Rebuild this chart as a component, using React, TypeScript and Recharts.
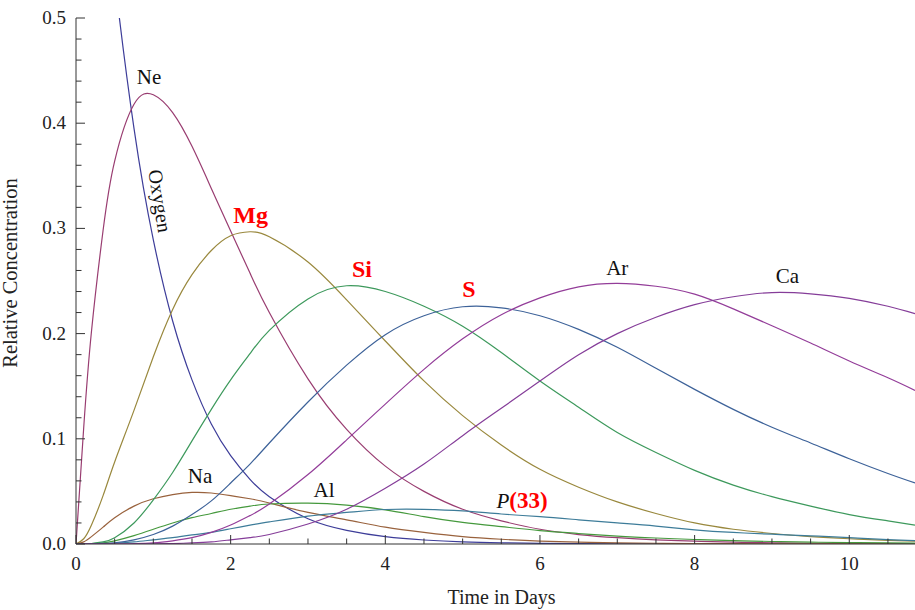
import React from "react";
import { LineChart, Line, XAxis, YAxis, ReferenceDot, Label } from "recharts";

// time in days (sample points)
const TIME = [0, 0.1, 0.2, 0.35, 0.5, 0.75, 1, 1.25, 1.5, 1.75, 2, 2.25, 2.5, 3, 3.5, 4, 4.5, 5, 5.5, 6, 6.5, 7, 7.5, 8, 8.5, 9, 9.5, 10, 10.5, 10.85];

const OXYGEN = [1.0, 0.883, 0.78, 0.648, 0.538, 0.395, 0.289, 0.212, 0.156, 0.114, 0.084, 0.0614, 0.045, 0.024, 0.013, 0.007, 0.0038, 0.002, 0.0011, 0.0006, 0.0003, 0.0002, 0.0001, 0.0001, 0, 0, 0, 0, 0, 0];
const NEON = [0, 0.111, 0.202, 0.298, 0.364, 0.418, 0.427, 0.41, 0.378, 0.338, 0.2975, 0.2575, 0.22, 0.157, 0.109, 0.074, 0.05, 0.033, 0.022, 0.014, 0.009, 0.006, 0.004, 0.0027, 0.0017, 0.0011, 0.0007, 0.0004, 0.0003, 0.0002];
const MAGNESIUM = [0, 0.005, 0.018, 0.046, 0.078, 0.127, 0.178, 0.223, 0.256, 0.279, 0.293, 0.2968, 0.292, 0.268, 0.232, 0.193, 0.155, 0.122, 0.094, 0.071, 0.054, 0.04, 0.029, 0.02, 0.014, 0.01, 0.007, 0.005, 0.0035, 0.0028];
const SODIUM = [0, 0.002, 0.007, 0.016, 0.025, 0.036, 0.043, 0.047, 0.049, 0.0485, 0.046, 0.043, 0.039, 0.03, 0.023, 0.016, 0.011, 0.007, 0.0045, 0.0028, 0.0018, 0.0011, 0.0007, 0.0004, 0.0003, 0.0002, 0.0001, 0.0001, 0, 0];
const ALUMINIUM = [0, 0, 0.0003, 0.001, 0.003, 0.008, 0.014, 0.02, 0.025, 0.029, 0.033, 0.036, 0.038, 0.0388, 0.037, 0.0325, 0.026, 0.0205, 0.0165, 0.0128, 0.01, 0.0075, 0.0057, 0.0043, 0.0032, 0.0024, 0.0018, 0.0013, 0.001, 0.0008];
const SILICON = [0, 0, 0.0005, 0.002, 0.006, 0.02, 0.042, 0.068, 0.098, 0.128, 0.156, 0.181, 0.203, 0.233, 0.2455, 0.24, 0.226, 0.207, 0.182, 0.155, 0.13, 0.106, 0.087, 0.07, 0.056, 0.045, 0.036, 0.028, 0.022, 0.018];
const PHOSPHORUS = [0, 0, 0, 0.0003, 0.0008, 0.002, 0.004, 0.006, 0.0086, 0.011, 0.0145, 0.018, 0.021, 0.0265, 0.03, 0.0328, 0.033, 0.0315, 0.0285, 0.026, 0.023, 0.02, 0.017, 0.0135, 0.011, 0.0093, 0.0078, 0.006, 0.0042, 0.0033];
const SULFUR = [0, 0, 0, 0.0005, 0.0012, 0.004, 0.009, 0.017, 0.028, 0.041, 0.058, 0.076, 0.096, 0.135, 0.17, 0.199, 0.217, 0.2255, 0.2245, 0.217, 0.204, 0.187, 0.167, 0.147, 0.128, 0.111, 0.096, 0.081, 0.067, 0.058];
const ARGON = [0, 0, 0, 0, 0, 0.0003, 0.001, 0.003, 0.006, 0.011, 0.018, 0.027, 0.038, 0.066, 0.099, 0.133, 0.166, 0.195, 0.218, 0.234, 0.2445, 0.2478, 0.245, 0.2375, 0.2235, 0.2075, 0.191, 0.174, 0.158, 0.146];
const CALCIUM = [0, 0, 0, 0, 0, 0, 0.0001, 0.0004, 0.001, 0.002, 0.004, 0.006, 0.009, 0.019, 0.033, 0.053, 0.076, 0.103, 0.129, 0.155, 0.18, 0.2, 0.2155, 0.2275, 0.235, 0.239, 0.2378, 0.2335, 0.226, 0.219];

const X_TICKS = [0, 0.5, 1, 1.5, 2, 2.5, 3, 3.5, 4, 4.5, 5, 5.5, 6, 6.5, 7, 7.5, 8, 8.5, 9, 9.5, 10, 10.5];
const Y_TICKS = [0, 0.02, 0.04, 0.06, 0.08, 0.1, 0.12, 0.14, 0.16, 0.18, 0.2, 0.22, 0.24, 0.26, 0.28, 0.3, 0.32, 0.34, 0.36, 0.38, 0.4, 0.42, 0.44, 0.46, 0.48, 0.5];

const SERIES = [
  { key: "oxygen", values: OXYGEN, color: "#3d3d99" },
  { key: "neon", values: NEON, color: "#993d71" },
  { key: "magnesium", values: MAGNESIUM, color: "#99883d" },
  { key: "sodium", values: SODIUM, color: "#99623d" },
  { key: "aluminium", values: ALUMINIUM, color: "#45993d" },
  { key: "silicon", values: SILICON, color: "#3d995c" },
  { key: "phosphorus", values: PHOSPHORUS, color: "#3d7c99" },
  { key: "sulfur", values: SULFUR, color: "#3d6299" },
  { key: "argon", values: ARGON, color: "#933d99" },
  { key: "calcium", values: CALCIUM, color: "#853d99" },
];

// curve labels, in data units
const LABELS = [
  { text: "Ne", x: 0.944, y: 0.437, red: false },
  { text: "Mg", x: 2.259, y: 0.305, red: true },
  { text: "Si", x: 3.698, y: 0.2538, red: true },
  { text: "S", x: 5.082, y: 0.2348, red: true },
  { text: "Ar", x: 7.0, y: 0.2557, red: false },
  { text: "Ca", x: 9.2, y: 0.2481, red: false },
  { text: "Na", x: 1.604, y: 0.058, red: false },
  { text: "Al", x: 3.207, y: 0.0447, red: false },
];

const FONT = "'Liberation Serif', 'Times New Roman', serif";
const AXIS = "#333";

const data = TIME.map((t, i) => {
  const row: Record<string, number> = { t };
  SERIES.forEach((s) => {
    row[s.key] = s.values[i];
  });
  return row;
});

const XTick = (props: any) => {
  const { x, y, payload } = props;
  const major = payload.value % 2 === 0;
  return (
    <g>
      <line x1={x} x2={x} y1={y} y2={y - (major ? 9 : 5.5)} stroke={AXIS} strokeWidth={1} />
      {major && (
        <text x={x} y={y + 26} textAnchor="middle" fontFamily={FONT} fontSize={19} fill="#222">
          {payload.value}
        </text>
      )}
    </g>
  );
};

const YTick = (props: any) => {
  const { x, y, payload } = props;
  const major = Math.round(payload.value * 50) % 5 === 0;
  return (
    <g>
      <line x1={x} x2={x + (major ? 9 : 5.5)} y1={y} y2={y} stroke={AXIS} strokeWidth={1} />
      {major && (
        <text x={x - 10} y={y + 6} textAnchor="end" fontFamily={FONT} fontSize={19} fill="#222">
          {payload.value.toFixed(1)}
        </text>
      )}
    </g>
  );
};

export default function App() {
  return (
    <div style={{ position: "absolute", left: 0, top: 0, background: "#fff" }}>
      <LineChart width={915} height={610} data={data} margin={{ top: 18, right: 0, bottom: 26, left: 16 }}>
        <XAxis
          dataKey="t"
          type="number"
          domain={[0, 10.85]}
          allowDataOverflow
          ticks={X_TICKS}
          interval={0}
          tick={<XTick />}
          tickLine={false}
          tickSize={0}
          tickMargin={0}
          height={40}
          stroke={AXIS}
        >
          <Label
            content={(p: any) => (
              <text
                x={p.viewBox.x + p.viewBox.width / 2 + 6}
                y={p.viewBox.y + 60}
                textAnchor="middle"
                fontFamily={FONT}
                fontSize={20}
                fill="#222"
              >
                Time in Days
              </text>
            )}
          />
        </XAxis>
        <YAxis
          type="number"
          domain={[0, 0.5]}
          allowDataOverflow
          ticks={Y_TICKS}
          interval={0}
          tick={<YTick />}
          tickLine={false}
          tickSize={0}
          tickMargin={0}
          width={60}
          stroke={AXIS}
        >
          <Label
            content={(p: any) => (
              <text
                x={17}
                y={p.viewBox.y + p.viewBox.height / 2 - 8}
                textAnchor="middle"
                fontFamily={FONT}
                fontSize={20.5}
                fill="#222"
                transform={`rotate(-90, 17, ${p.viewBox.y + p.viewBox.height / 2 - 8})`}
              >
                Relative Concentration
              </text>
            )}
          />
        </YAxis>
        {SERIES.map((s) => (
          <Line
            key={s.key}
            dataKey={s.key}
            type="natural"
            stroke={s.color}
            strokeWidth={1.2}
            dot={false}
            isAnimationActive={false}
          />
        ))}
        {LABELS.map((l) => (
          <ReferenceDot
            key={l.text}
            x={l.x}
            y={l.y}
            r={0}
            ifOverflow="visible"
            label={(p: any) => (
              <text
                x={p.viewBox.x}
                y={p.viewBox.y}
                textAnchor="middle"
                fontFamily={FONT}
                fontSize={l.red ? 24 : 21}
                fontWeight={l.red ? "bold" : "normal"}
                fill={l.red ? "#ff0000" : "#111"}
              >
                {l.text}
              </text>
            )}
          />
        ))}
        <ReferenceDot
          x={5.437}
          y={0.0342}
          r={0}
          ifOverflow="visible"
          label={(p: any) => (
            <text x={p.viewBox.x} y={p.viewBox.y} textAnchor="start" fontFamily={FONT} fontSize={21} fill="#111">
              <tspan fontStyle="italic">P</tspan>
              <tspan fontWeight="bold" fill="#ff0000" fontSize={23}>(33)</tspan>
            </text>
          )}
        />
        <ReferenceDot
          x={1.089}
          y={0.326}
          r={0}
          ifOverflow="visible"
          label={(p: any) => (
            <text
              x={p.viewBox.x}
              y={p.viewBox.y}
              textAnchor="middle"
              dominantBaseline="central"
              fontFamily={FONT}
              fontSize={20}
              fill="#111"
              transform={`rotate(81, ${p.viewBox.x}, ${p.viewBox.y})`}
            >
              Oxygen
            </text>
          )}
        />
      </LineChart>
    </div>
  );
}
